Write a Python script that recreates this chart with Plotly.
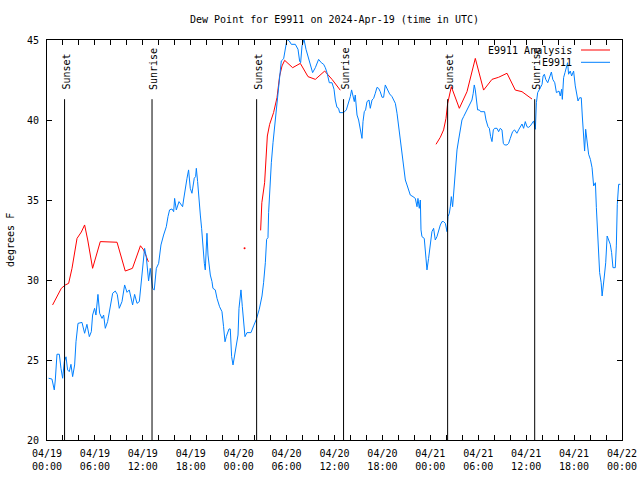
import pandas as pd
import plotly.graph_objects as go

BASE = pd.Timestamp("2024-04-19 00:00")

# Hours after 2024-04-19 00:00 UTC and dew point (F) for station observations
blue_hours = [0.2, 0.62, 0.91, 1.04, 1.25, 1.54, 1.75, 1.96, 2.17, 2.38, 2.58, 2.79, 3.0, 3.21, 3.46, 3.63, 3.88, 4.38, 4.71, 5.0,
              5.3, 5.55, 5.71, 5.96, 6.13, 6.38, 6.59, 6.89, 7.09, 7.3, 7.59, 7.93, 8.22, 8.55, 8.8, 9.05, 9.39, 9.72, 10.02, 10.3,
              10.72, 10.97, 11.27, 11.56, 11.77, 11.97, 12.22, 12.43, 12.72, 12.93, 13.22, 13.43, 13.69, 13.98, 14.27, 14.6, 14.94, 15.15, 15.35, 15.65,
              15.86, 15.98, 16.19, 16.53, 16.78, 16.98, 17.1, 17.32, 17.53, 17.73, 17.94, 18.15, 18.28, 18.44, 18.61, 18.7, 18.86, 19.03, 19.2, 19.36,
              19.53, 19.7, 19.82, 19.95, 20.03, 20.16, 20.24, 20.45, 20.66, 20.78, 21.07, 21.29, 21.61, 21.91, 22.11, 22.29, 22.45, 22.62, 22.79, 22.95,
              23.12, 23.29, 23.45, 23.7, 23.92, 24.04, 24.2, 24.29, 24.46, 24.62, 24.79, 25.04, 25.54, 25.87, 26.21, 26.58, 26.92, 27.12, 27.34, 27.5,
              27.67, 27.75, 27.92, 28.09, 28.3, 28.5, 28.71, 28.93, 29.12, 29.34, 29.63, 29.84, 30.05, 30.34, 30.59, 31.09, 31.43, 31.63, 31.76, 31.93,
              32.18, 32.43, 32.68, 32.97, 33.26, 33.6, 34.01, 34.35, 34.64, 34.85, 35.06, 35.35, 35.69, 35.94, 36.1, 36.31, 36.51, 36.64, 37.14, 37.48,
              37.77, 37.98, 38.14, 38.32, 38.48, 38.6, 38.82, 39.02, 39.14, 39.32, 39.44, 39.57, 39.73, 39.89, 40.07, 40.32, 40.48, 40.7, 40.9, 41.11,
              41.32, 41.52, 41.73, 41.95, 42.15, 42.36, 42.65, 42.9, 43.2, 43.4, 43.62, 43.83, 44.03, 44.24, 44.45, 44.65, 44.87, 45.08, 45.28, 45.49,
              45.83, 46.12, 46.33, 46.45, 46.62, 46.75, 46.83, 46.95, 47.24, 47.37, 47.58, 47.78, 47.98, 48.2, 48.41, 48.62, 48.83, 49.03, 49.25, 49.46,
              49.66, 49.88, 50.09, 50.21, 50.38, 50.5, 50.63, 50.79, 50.96, 51.13, 51.34, 51.54, 51.75, 51.96, 52.17, 52.38, 52.59, 52.79, 53.0, 53.21,
              53.37, 53.5, 53.63, 53.75, 53.92, 54.13, 54.3, 54.79, 54.97, 55.22, 55.39, 55.55, 55.72, 55.89, 56.05, 56.35, 56.55, 56.76, 56.97, 57.14,
              57.3, 57.6, 57.8, 58.01, 58.3, 58.55, 58.84, 59.05, 59.26, 59.48, 59.68, 59.89, 60.1, 60.3, 60.52, 60.73, 60.94, 61.15, 61.28, 61.44,
              61.61, 61.78, 61.99, 62.12, 62.28, 62.45, 62.7, 62.95, 63.16, 63.33, 63.58, 63.79, 64.11, 64.27, 64.44, 64.53, 64.69, 64.86, 65.02, 65.19,
              65.31, 65.52, 65.69, 65.94, 66.15, 66.37, 66.49, 66.69, 66.9, 67.03, 67.2, 67.32, 67.45, 67.62, 67.82, 68.04, 68.25, 68.45, 68.67, 68.79,
              68.96, 69.09, 69.2, 69.39, 69.51, 69.79, 69.96, 70.14, 70.34, 70.53, 70.7, 70.87, 71.16, 71.29, 71.41, 71.58, 71.79]
blue_values = [23.86, 23.81, 23.13, 23.75, 25.36, 25.36, 24.48, 23.86, 24.9, 25.2, 24.38, 24.27, 24.73, 23.96, 24.69, 26.14, 27.29, 27.35, 26.67, 27.23,
               26.46, 26.77, 27.81, 28.23, 27.81, 29.1, 27.92, 27.6, 27.81, 26.98, 27.4, 28.23, 29.17, 29.31, 29.1, 28.23, 28.65, 29.69, 29.23, 29.38,
               28.44, 29.1, 28.54, 28.65, 29.69, 31.04, 31.98, 31.46, 29.94, 30.73, 29.48, 29.38, 30.73, 31.04, 32.19, 32.81, 33.33, 33.96, 34.38, 34.44,
               34.27, 35.1, 34.38, 34.9, 34.69, 34.58, 35.0, 35.83, 36.36, 36.88, 35.73, 35.42, 35.94, 36.36, 36.46, 36.98, 36.15, 34.9, 34.06, 33.23,
               31.77, 31.04, 30.63, 32.4, 32.92, 31.56, 31.14, 30.31, 29.9, 29.48, 29.38, 28.85, 28.33, 28.02, 27.08, 26.14, 26.46, 26.77, 26.94, 26.94,
               25.21, 24.69, 25.21, 25.94, 26.56, 28.23, 29.06, 29.38, 28.33, 27.4, 26.46, 26.71, 26.71, 27.13, 27.54, 28.17, 29.0, 29.83, 31.08, 32.54,
               32.65, 34.21, 35.88, 37.33, 38.58, 39.63, 40.77, 41.71, 42.96, 43.69, 43.83, 44.42, 45.04, 44.94, 44.73, 44.73, 44.42, 43.69, 43.58, 44.63,
               45.04, 44.42, 44.0, 43.58, 42.96, 43.27, 43.79, 43.58, 43.48, 43.27, 42.96, 42.33, 42.33, 41.92, 41.25, 40.79, 40.73, 40.46, 40.46, 40.63,
               41.04, 41.46, 41.88, 41.56, 41.15, 41.56, 40.31, 40.0, 39.58, 39.17, 38.85, 39.9, 40.52, 40.63, 41.15, 41.25, 40.73, 41.25, 41.35, 41.67,
               42.04, 41.98, 41.77, 41.42, 41.42, 42.19, 41.88, 41.63, 41.46, 41.25, 41.04, 40.42, 39.58, 38.54, 37.71, 37.08, 36.25, 35.94, 35.63, 35.31,
               35.21, 35.1, 34.58, 35.1, 34.48, 35.0, 33.13, 32.71, 32.6, 31.77, 30.63, 31.35, 32.29, 33.02, 33.23, 32.5, 32.71, 33.13, 33.44, 33.65,
               33.65, 33.54, 33.02, 33.96, 34.17, 34.58, 35.21, 34.58, 35.63, 37.08, 38.13, 38.75, 39.38, 40.0, 40.21, 40.42, 40.63, 40.73, 41.04, 41.25,
               41.67, 42.19, 41.88, 41.25, 40.63, 40.63, 40.52, 40.52, 40.0, 39.58, 39.48, 38.96, 38.65, 39.38, 39.48, 39.48, 39.27, 39.48, 39.38, 38.54,
               38.44, 38.44, 38.54, 38.85, 39.27, 39.38, 39.17, 39.38, 39.58, 39.75, 39.48, 39.9, 39.58, 39.54, 39.63, 39.83, 39.94, 39.42, 41.08, 41.71,
               41.92, 42.02, 42.23, 42.75, 42.86, 42.54, 42.33, 42.65, 43.0, 42.54, 42.33, 41.71, 41.81, 41.5, 41.92, 41.29, 42.65, 42.96, 43.27, 43.58,
               42.86, 43.06, 42.75, 43.06, 42.13, 41.39, 41.19, 41.39, 41.39, 40.25, 39.0, 38.06, 39.42, 38.79, 37.86, 37.54, 37.02, 35.88, 36.08, 34.52,
               32.96, 31.5, 30.46, 29.83, 29.0, 30.25, 31.08, 32.75, 32.54, 32.23, 31.71, 30.77, 30.77, 32.13, 34.73, 35.98, 35.98]

# Analysis series (None = missing)
red_hours = [0.7, 1.25, 1.79, 2.29, 2.71, 3.13, 3.76, 4.3, 4.71, 5.1, 5.71, 6.67, 8.77, 9.8, 10.7, 11.7, 12.1, 12.7,
             18.0, 24.74, 25.5,
             26.75, 26.9, 27.25, 27.42, 27.59, 27.88, 28.37, 28.8, 29.13, 29.43, 29.76, 30.76, 31.72, 32.68, 33.6, 34.77, 35.69, 36.73,
             42.0,
             48.71, 49.25, 49.66, 49.96, 50.17, 50.63, 51.63, 52.59, 53.63, 54.67, 55.72, 56.55, 57.6, 58.64, 59.48, 60.52, 60.73]
red_values = [28.44, 28.96, 29.48, 29.69, 29.79, 30.73, 32.6, 33.0, 33.44, 32.5, 30.73, 32.4, 32.36, 30.56, 30.73, 32.14, 31.88, 31.14,
              None, 31.98, None,
              33.1, 34.83, 36.08, 37.54, 39.0, 39.73, 40.46, 41.4, 42.75, 43.38, 43.73, 43.27, 43.54, 42.71, 42.54, 43.06, 42.54, 41.86,
              None,
              38.48, 38.92, 39.38, 40.1, 41.04, 42.08, 40.73, 41.77, 43.85, 41.87, 42.54, 42.67, 42.92, 41.87, 41.77, 41.42, 41.31]

sunset_times = ["2024-04-19 02:12", "2024-04-20 02:15", "2024-04-21 02:10"]
sunrise_times = ["2024-04-19 13:09", "2024-04-20 13:08", "2024-04-21 13:04"]

x_tick_labels = ["04/19<br>00:00", "04/19<br>06:00", "04/19<br>12:00", "04/19<br>18:00",
                 "04/20<br>00:00", "04/20<br>06:00", "04/20<br>12:00", "04/20<br>18:00",
                 "04/21<br>00:00", "04/21<br>06:00", "04/21<br>12:00", "04/21<br>18:00",
                 "04/22<br>00:00"]
y_tick_values = [20, 25, 30, 35, 40, 45]

series_names = ["E9911 Analysis", "E9911"]
series_colors = ["#ff0000", "#0080ff"]

FONT = "DejaVu Sans Mono"


def to_time(hours):
    return [BASE + pd.Timedelta(hours=h) for h in hours]


fig = go.Figure()
fig.add_trace(go.Scatter(x=to_time(red_hours), y=red_values, mode="lines",
                         line=dict(color=series_colors[0], width=1), connectgaps=False,
                         name=series_names[0], showlegend=False))
# isolated analysis points (no neighbours to connect to)
iso_x, iso_y = [], []
for i, v in enumerate(red_values):
    if v is None:
        continue
    prev_none = i == 0 or red_values[i - 1] is None
    next_none = i == len(red_values) - 1 or red_values[i + 1] is None
    if prev_none and next_none:
        iso_x.append(BASE + pd.Timedelta(hours=red_hours[i]))
        iso_y.append(v)
fig.add_trace(go.Scatter(x=iso_x, y=iso_y, mode="markers",
                         marker=dict(color=series_colors[0], size=2, line=dict(width=0)),
                         showlegend=False))
fig.add_trace(go.Scatter(x=to_time(blue_hours), y=blue_values, mode="lines",
                         line=dict(color=series_colors[1], width=1),
                         name=series_names[1], showlegend=False))

# Sunrise / sunset markers
LINE_TOP = 41.3
for label, times in (("Sunset", sunset_times), ("Sunrise", sunrise_times)):
    for t in times:
        fig.add_shape(type="line", xref="x", yref="y", x0=t, x1=t, y0=y_tick_values[0], y1=LINE_TOP,
                      line=dict(color="black", width=1))
        fig.add_annotation(x=t, y=41.75, xref="x", yref="y", text=label, showarrow=False,
                           textangle=-90, xanchor="center", yanchor="bottom", xshift=1,
                           font=dict(family=FONT, size=10, color="black"))

# Manual legend (text followed by line sample, gnuplot style)
L, R, T, B = 47, 622, 40, 440
PW, PH = R - L, B - T
for k, (nm, col) in enumerate(zip(series_names, series_colors)):
    ypx = 50 + k * 12.3
    yp = (B - ypx) / PH
    fig.add_annotation(x=(574 - L) / PW, y=yp, xref="paper", yref="paper", text=nm,
                       showarrow=False, xanchor="right", yanchor="middle",
                       font=dict(family=FONT, size=10, color="black"))
    fig.add_shape(type="line", xref="paper", yref="paper", x0=(581 - L) / PW, x1=(610 - L) / PW,
                  y0=yp, y1=yp, line=dict(color=col, width=1))

# Y-axis title
fig.add_annotation(x=(10 - L) / PW, y=0.5, xref="paper", yref="paper", text="degrees F",
                   showarrow=False, textangle=-90, xanchor="center", yanchor="middle",
                   font=dict(family=FONT, size=10, color="black"))

tickvals = [BASE + pd.Timedelta(hours=h) for h in range(0, 73, 2)]
ticktext = [x_tick_labels[h // 6] if h % 6 == 0 else "" for h in range(0, 73, 2)]

fig.update_layout(
    width=640, height=480,
    margin=dict(l=L, r=640 - R, t=T, b=480 - B, autoexpand=False),
    paper_bgcolor="white", plot_bgcolor="white",
    font=dict(family=FONT, size=10, color="black"),
    title=dict(text="Dew Point for E9911 on 2024-Apr-19 (time in UTC)", x=0.5, xref="paper",
               y=1 - 19 / 480, yref="container", xanchor="center", yanchor="middle",
               font=dict(family=FONT, size=10, color="black")),
    showlegend=False,
    xaxis=dict(type="date", range=[BASE, BASE + pd.Timedelta(hours=72)], tickmode="array",
               tickvals=tickvals, ticktext=ticktext, ticks="inside", ticklen=5, tickcolor="black",
               showline=True, linecolor="black", linewidth=1, mirror="ticks", automargin=False,
               showgrid=False, zeroline=False, ticklabelstandoff=4,
               tickfont=dict(family=FONT, size=10, color="black")),
    yaxis=dict(range=[20, 45], tickmode="array", tickvals=y_tick_values,
               ticktext=[str(v) for v in y_tick_values], ticks="inside", ticklen=5, tickcolor="black",
               showline=True, linecolor="black", linewidth=1, mirror="ticks", automargin=False,
               showgrid=False, zeroline=False, ticklabelstandoff=5,
               tickfont=dict(family=FONT, size=10, color="black")),
)

fig.write_html("out.html", config={"displayModeBar": False},
               post_script="document.body.style.margin='0';")
